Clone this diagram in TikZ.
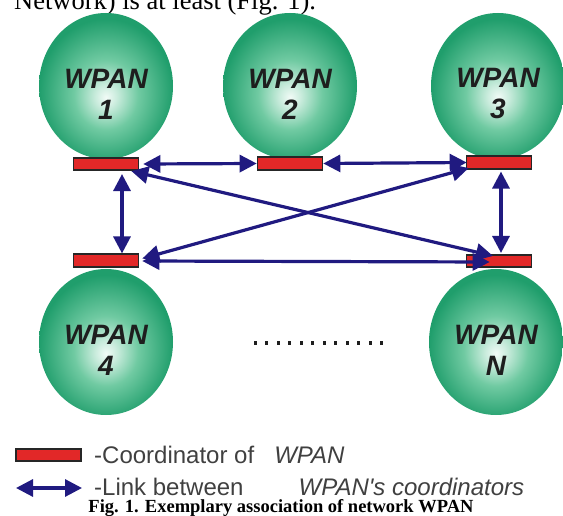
\documentclass[tikz,border=0pt]{standalone}
\usepackage{fontspec}
\setmainfont{Liberation Serif}
\newfontfamily\arialfont{Liberation Sans}
\usetikzlibrary{arrows.meta,calc,shapes.geometric}

\definecolor{ballout}{RGB}{32,158,108}
\definecolor{ballmid}{RGB}{112,202,162}
\definecolor{balllight}{RGB}{202,236,221}
\definecolor{ballin}{RGB}{242,251,247}
\definecolor{linkblue}{RGB}{32,26,128}
\definecolor{coordred}{RGB}{226,40,40}
\definecolor{inkgray}{RGB}{30,30,30}

% green sphere, brightest a little below the middle
\pgfdeclareradialshading{wpanshade}{\pgfpoint{0bp}{-4bp}}{%
  color(0bp)=(ballin); color(4bp)=(balllight);
  color(12bp)=(ballmid); color(25bp)=(ballout); color(50bp)=(ballout)}

\tikzset{
  wpan/.style={ellipse, shading=wpanshade, minimum width=134pt,
    minimum height=146pt, inner sep=0pt},
  wpanlabel/.style={align=center, text=inkgray,
    font=\arialfont\bfseries\itshape\fontsize{28}{31}\selectfont},
  coordbox/.style={draw=black!85, line width=1.6pt, fill=coordred,
    minimum width=65pt, minimum height=12.5pt, inner sep=0pt},
  link/.style={linkblue, line width=3.2pt,
    {Triangle[length=17pt,width=17pt]}-{Triangle[length=17pt,width=17pt]}},
  legendtext/.style={anchor=base west, inner sep=0pt, text=inkgray!85,
    font=\arialfont\fontsize{24}{28}\selectfont},
}

\begin{document}
\begin{tikzpicture}[x=1pt, y=-1pt]
\useasboundingbox (0,0) rectangle (563,516);
\clip (0,0) rectangle (563,516);

% end of the preceding paragraph
\node[anchor=base west, inner sep=0pt, font=\fontsize{26.5}{31}\selectfont]
  (para) at (14,10) {Network) is at least (Fig. 1).};

% the WPAN spheres
\node[wpan] (b1) at (106,86) {};
\node[wpan] (b2) at (290,86) {};
\node[wpan] (b3) at (498,86) {};
\node[wpan] (b4) at (106,342) {};
\node[wpan] (bN) at (496,342) {};
\node[wpanlabel] (t1) at ($(b1)+(0,8)$) {WPAN\\1};
\node[wpanlabel] (t2) at ($(b2)+(0,8)$) {WPAN\\2};
\node[wpanlabel] (t3) at ($(b3)+(0,8)$) {WPAN\\3};
\node[wpanlabel] (t4) at ($(b4)+(0,8)$) {WPAN\\4};
\node[wpanlabel] (tN) at ($(bN)+(0,8)$) {WPAN\\N};

% coordinators
\node[coordbox] (c1) at (106,164) {};
\node[coordbox] (c2) at (290,163.5) {};
\node[coordbox] (c3) at (499,162.5) {};
\node[coordbox] (c4) at (106,260.5) {};
\node[coordbox] (cN) at (499,261) {};

% links between coordinators
\draw[link] ($(c1.east)+(4,0)$) -- (c2.west);
\draw[link] (c2.east) -- ($(c3.west)+(1,0)$);
\draw[link] ($(c1.south)+(16,3)$) -- ($(c4.north)+(16,0)$);
\draw[link] ($(c3.south)+(2,2)$) -- ($(cN.north)+(2,-1)$);
\draw[link] ($(c1.south east)+(-8,0)$) -- ($(cN.north)+(-6,2)$);
\draw[link] ($(c3.south west)+(3,-1.5)$) -- ($(c4.east)+(3,-2)$);
\draw[link] ($(c4.east)+(3,0.5)$) -- ($(cN.west)+(24,1)$);

% the networks between 4 and N
\foreach \i in {0,...,11}
  \fill[inkgray] (253.5+11.5*\i,341.3) rectangle +(3.4,3.4);

% legend
\node[coordbox] (lc) at (48.5,455) {};
\node[legendtext] (lt1) at (94,463) {-Coordinator of\hspace{20pt}\textit{WPAN}};
\coordinate (la) at (16,488);
\coordinate (lb) at (82,488);
\draw[link] (la) -- (lb);
\node[legendtext] (lt2) at (94,495) {-Link between\hspace{55pt}\textit{WPAN's coordinators}};

% caption
\node[anchor=base, inner sep=0pt, font=\bfseries\fontsize{18.5}{22}\selectfont]
  (cap) at (281,512.5) {Fig. 1. Exemplary association of network WPAN};
\end{tikzpicture}
\end{document}
